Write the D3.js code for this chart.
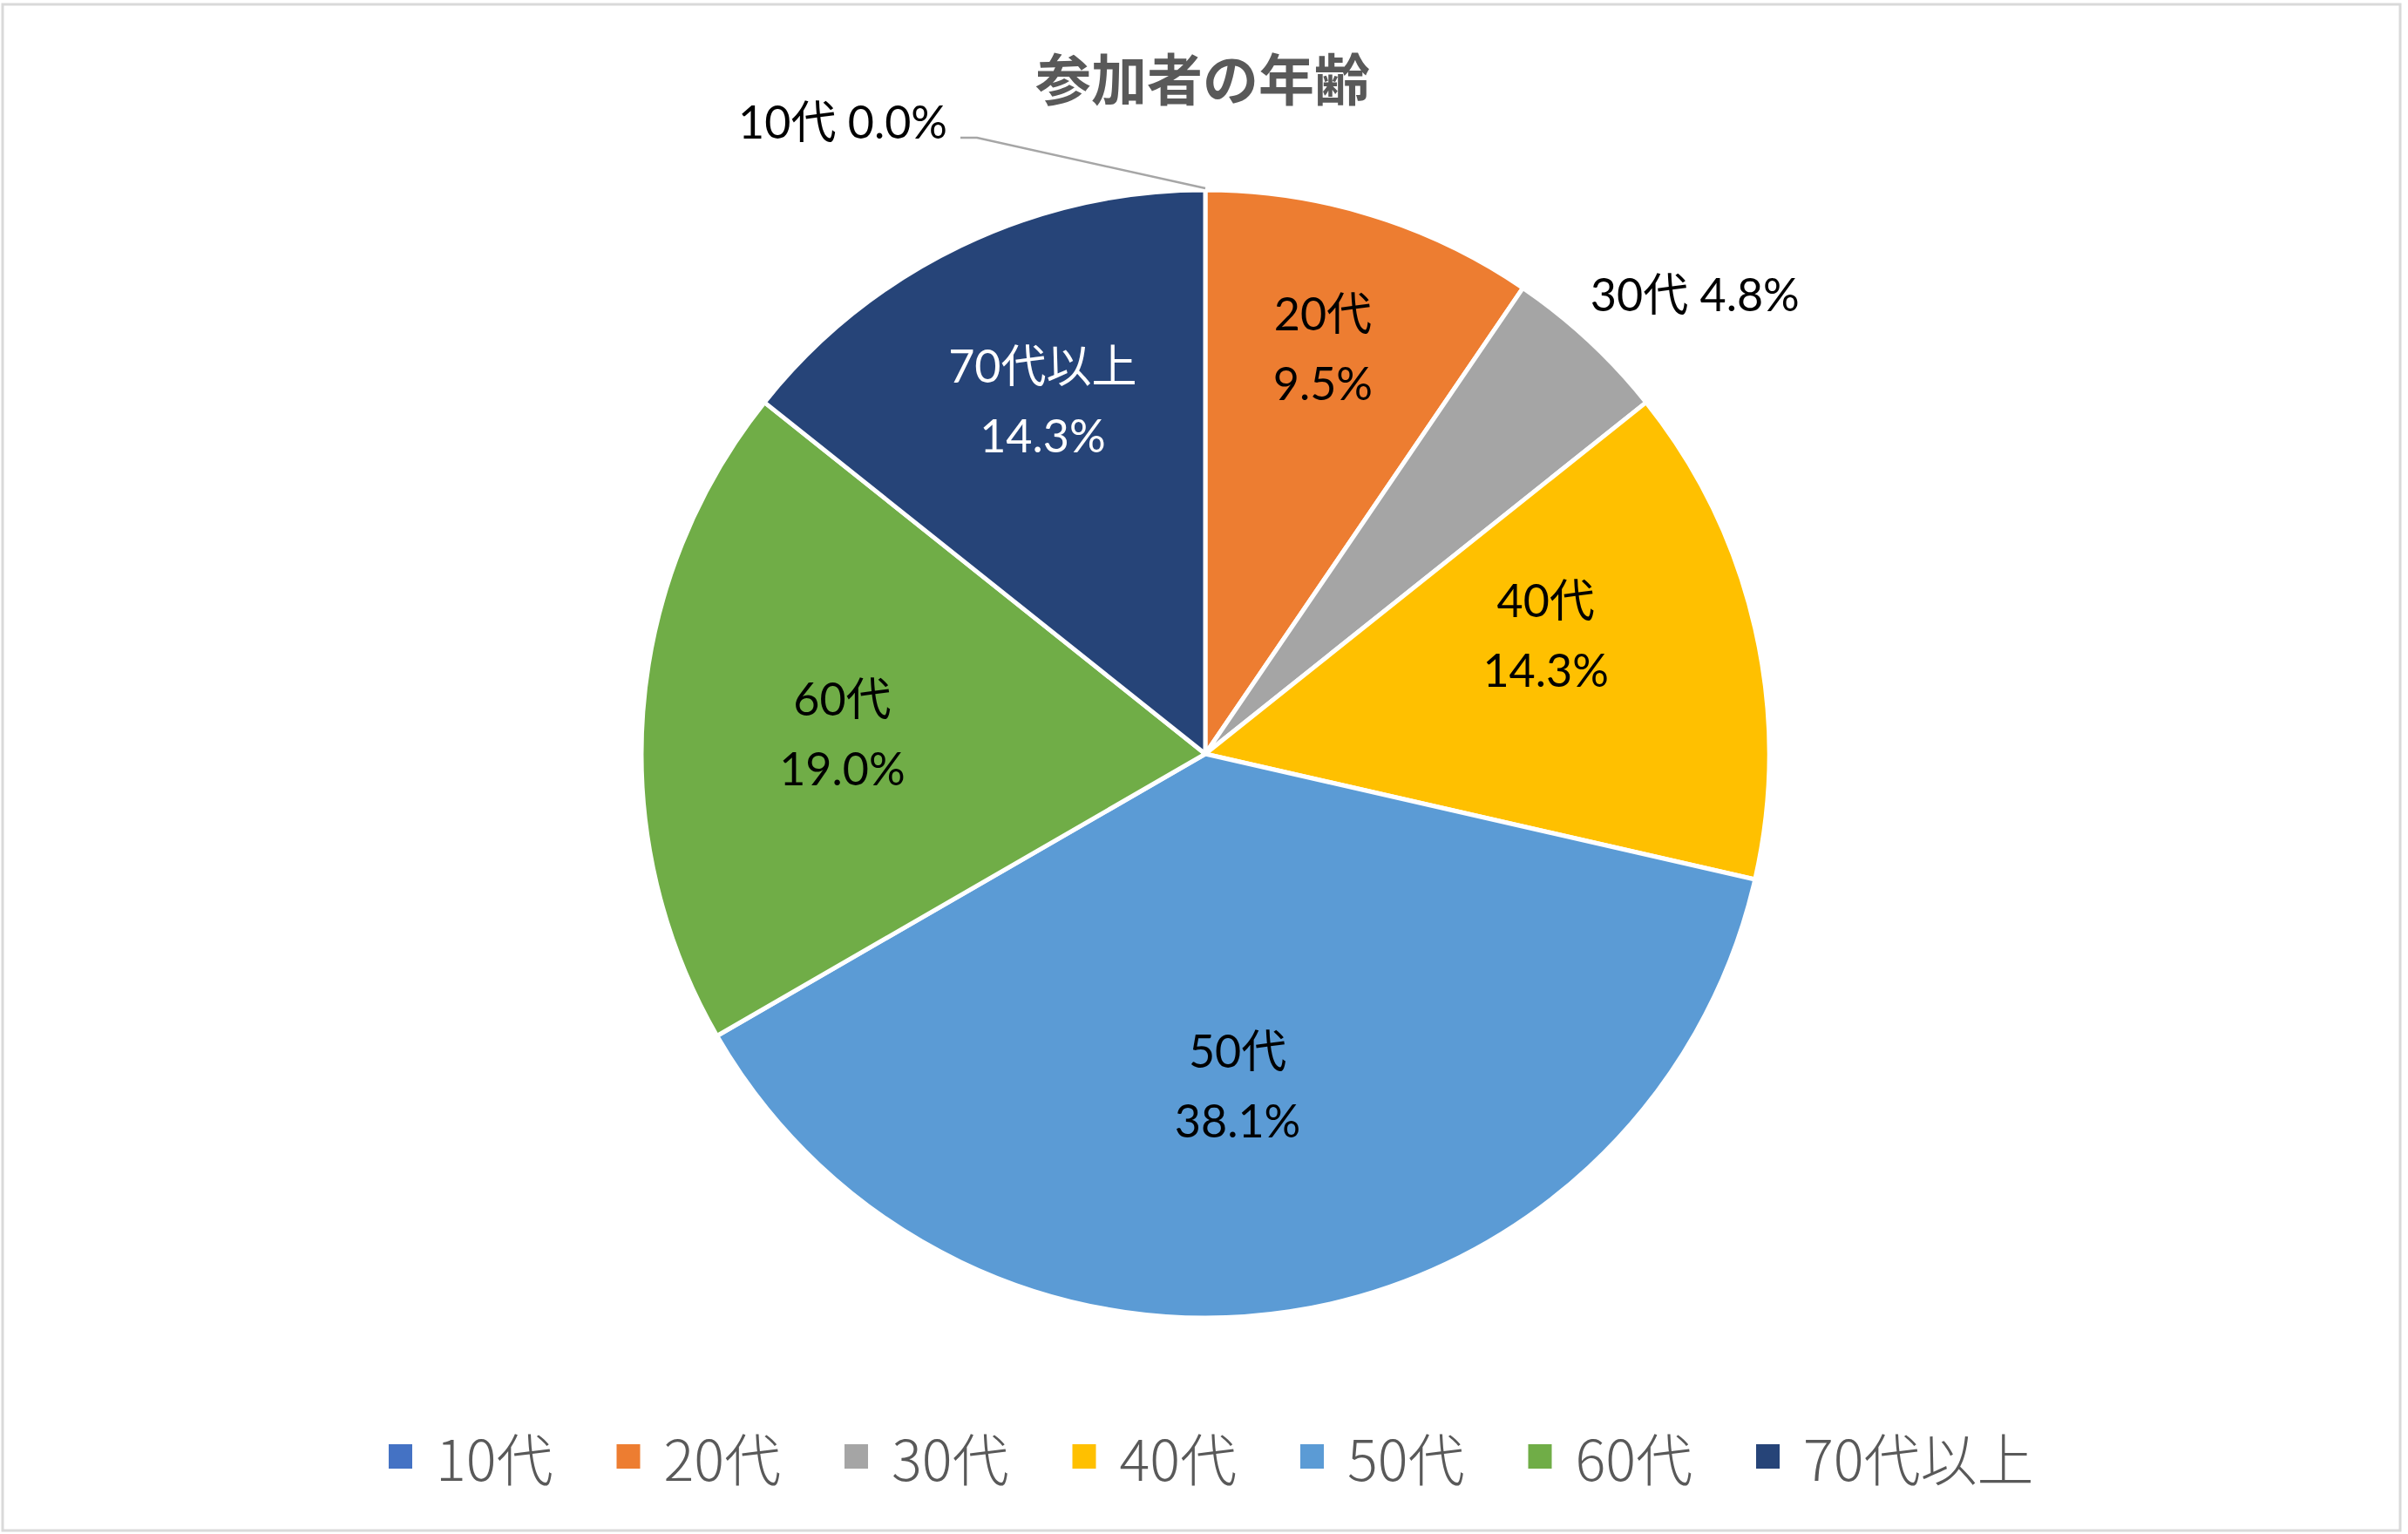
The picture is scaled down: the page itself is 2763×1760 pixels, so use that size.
<!DOCTYPE html>
<html>
<head>
<meta charset="utf-8">
<script src="https://cdn.jsdelivr.net/npm/d3@7"></script>
<style>
  body { margin: 0; background: #fff; }
</style>
</head>
<body>
<div id="chart"></div>
<script>

// data: number of participants per age group
var ageGroups = ["10代", "20代", "30代", "40代", "50代", "60代", "70代以上"];
var counts = [0, 2, 1, 3, 8, 4, 3];
var colors = ["#4472C4", "#ED7D31", "#A5A5A5", "#FFC000", "#5B9BD5", "#70AD47", "#264478"];
var title = "参加者の年齢";

// label placement (radius as share of R, angle nudge in degrees)
var labelRadius = [1.0, 0.75, 1.192, 0.64, 0.59, 0.645, 0.69];
var labelNudge = [0, -1, 3.9, -6.5, 3, -1, 1];

var width = 2763, height = 1760;
var cx = 1383, cy = 865, R = 647;

var svg = d3.select("#chart")
  .append("svg")
    .attr("width", width)
    .attr("height", height);

// chart frame
svg.append("rect")
  .attr("x", 3).attr("y", 5)
  .attr("width", 2751).attr("height", 1751)
  .attr("fill", "#fff")
  .attr("stroke", "#d9d9d9")
  .attr("stroke-width", 3);

// title
svg.append("text")
  .attr("x", 1380).attr("y", 87)
  .attr("text-anchor", "middle")
  .attr("dominant-baseline", "central")
  .style("font-family", "'Noto Sans CJK JP'")
  .style("font-weight", 700)
  .style("font-size", "64px")
  .attr("fill", "#595959")
  .text(title);

var data = ageGroups.map(function(g, i) { return {group: g, value: counts[i], i: i}; });
var total = d3.sum(counts);
var fmt = d3.format(".1%");

var pie = d3.pie()
  .sort(null)
  .value(function(d) { return d.value; });

var arc = d3.arc().innerRadius(0).outerRadius(R);

var g = svg.append("g")
  .attr("transform", "translate(" + cx + "," + cy + ")");

var arcs = pie(data);

g.selectAll("path")
  .data(arcs)
  .enter()
  .append("path")
    .attr("d", arc)
    .attr("fill", function(d) { return colors[d.data.i]; })
    .attr("stroke", "#fff")
    .attr("stroke-width", 5)
    .attr("stroke-linejoin", "round");

var labelFont = "Lato, 'Noto Sans CJK JP', sans-serif";

function labelPoint(d) {
  var i = d.data.i;
  var a = (d.startAngle + d.endAngle) / 2 + labelNudge[i] * Math.PI / 180;
  var r = labelRadius[i] * R;
  return [r * Math.sin(a), -r * Math.cos(a)];
}

arcs.forEach(function(d) {
  var i = d.data.i;
  var txt = fmt(d.data.value / total);
  if (d.data.value === 0) {
    // zero slice: leader line up-left from the top of the pie
    var p = [0, -R - 2];
    g.append("polyline")
      .attr("points", [p, [p[0] - 262, p[1] - 58], [p[0] - 281, p[1] - 58]].map(function(q) { return q.join(","); }).join(" "))
      .attr("fill", "none")
      .attr("stroke", "#a6a6a6")
      .attr("stroke-width", 2.5);
    g.append("text")
      .attr("x", p[0] - 296).attr("y", p[1] - 77)
      .attr("text-anchor", "end")
      .attr("dominant-baseline", "central")
      .style("font-family", labelFont)
      .style("font-size", "52px")
      .attr("fill", "#000")
      .text(d.data.group + " " + txt);
    return;
  }
  var pt = labelPoint(d);
  if (labelRadius[i] > 1) {
    g.append("text")
      .attr("x", pt[0]).attr("y", pt[1])
      .attr("text-anchor", "middle")
      .attr("dominant-baseline", "central")
      .style("font-family", labelFont)
      .style("font-size", "52px")
      .attr("fill", "#000")
      .text(d.data.group + " " + txt);
    return;
  }
  var fill = i === 6 ? "#fff" : "#000";
  var t = g.append("text")
    .attr("text-anchor", "middle")
    .attr("dominant-baseline", "central")
    .style("font-family", labelFont)
    .style("font-size", "52px")
    .attr("fill", fill);
  t.append("tspan").attr("x", pt[0]).attr("y", pt[1] - 40).text(d.data.group);
  t.append("tspan").attr("x", pt[0]).attr("y", pt[1] + 40).text(txt);
});

// legend
var legendX = d3.scaleBand()
  .domain(ageGroups)
  .range([446, 446 + 7 * 261.5]);

var leg = svg.append("g").selectAll("g")
  .data(ageGroups)
  .enter()
  .append("g")
    .attr("transform", function(d) { return "translate(" + legendX(d) + ",1671)"; });

leg.append("rect")
  .attr("x", 0).attr("y", -14)
  .attr("width", 27).attr("height", 28)
  .attr("fill", function(d, i) { return colors[i]; });

leg.append("text")
  .attr("x", 54).attr("y", 0)
  .attr("dominant-baseline", "central")
  .style("font-family", "'Noto Sans CJK JP'")
  .style("font-weight", 300)
  .style("font-size", "65px")
  .attr("fill", "#595959")
  .text(function(d) { return d; });

</script>
</body>
</html>
